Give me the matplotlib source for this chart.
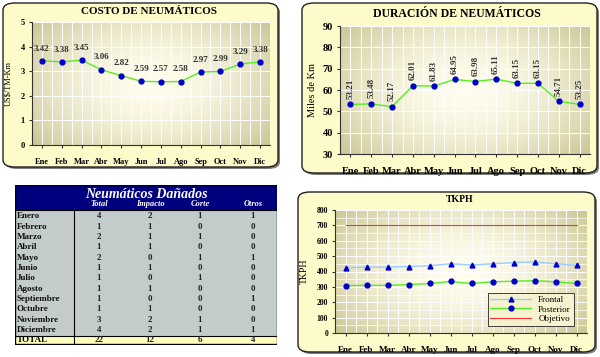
import matplotlib
matplotlib.use('Agg')
import matplotlib.pyplot as plt
import numpy as np
from matplotlib.patches import FancyBboxPatch, Rectangle
from matplotlib.ticker import MultipleLocator

plt.rcParams['font.family'] = ['Liberation Serif', 'DejaVu Serif']
plt.rcParams['font.weight'] = 'bold'

meses = ['Ene', 'Feb', 'Mar', 'Abr', 'May', 'Jun', 'Jul', 'Ago', 'Sep', 'Oct', 'Nov', 'Dic']
costo = [3.42, 3.38, 3.45, 3.06, 2.82, 2.59, 2.57, 2.58, 2.97, 2.99, 3.29, 3.38]
duracion = [53.21, 53.48, 52.17, 62.01, 61.83, 64.95, 63.98, 65.11, 63.15, 63.15, 54.71, 53.25]
tkph_frontal = [425, 428, 428, 432, 438, 450, 442, 450, 458, 462, 450, 440]
tkph_posterior = [308, 310, 310, 315, 322, 335, 322, 333, 337, 340, 333, 322]
tkph_objetivo = [700] * 12

tabla_meses = ['Enero', 'Febrero', 'Marzo', 'Abril', 'Mayo', 'Junio', 'Julio',
               'Agosto', 'Septiembre', 'Octubre', 'Noviembre', 'Diciembre']
tabla_cols = ['Total', 'Impacto', 'Corte', 'Otros']
tabla_total = [4, 1, 2, 1, 2, 1, 1, 1, 1, 1, 3, 4]
tabla_impacto = [2, 1, 1, 1, 0, 1, 0, 1, 0, 1, 2, 2]
tabla_corte = [1, 0, 1, 0, 1, 0, 1, 0, 0, 0, 1, 1]
tabla_otros = [1, 0, 0, 0, 1, 0, 0, 0, 1, 0, 0, 1]

W, H = 600, 357
fig = plt.figure(figsize=(6, 3.57), dpi=100)
fig.patch.set_facecolor('white')


def panel(x0, y0, x1, y1):
    # rounded yellow box, coords in pixels from top-left
    sh = FancyBboxPatch(((x0 + 2) / W, 1 - (y1 + 2) / H), (x1 - x0) / W, (y1 - y0) / H,
                        boxstyle='round,pad=0,rounding_size=0.02', transform=fig.transFigure,
                        facecolor='#7a7a7a', edgecolor='none', zorder=-3)
    bx = FancyBboxPatch((x0 / W, 1 - y1 / H), (x1 - x0) / W, (y1 - y0) / H,
                        boxstyle='round,pad=0,rounding_size=0.02', transform=fig.transFigure,
                        facecolor='#fdfbc9', edgecolor='#222222', linewidth=1.0, zorder=-2)
    fig.patches.append(sh)
    fig.patches.append(bx)


def add_axes(x0, y0, x1, y1):
    return fig.add_axes([x0 / W, 1 - y1 / H, (x1 - x0) / W, (y1 - y0) / H])


def gradient(ax, ymin, ymax):
    n = 200
    u = np.linspace(-1, 1, n)
    xx, yy = np.meshgrid(u, u)
    r = np.clip(np.sqrt(xx ** 2 + (yy * 0.8) ** 2) / 1.3, 0, 1) ** 1.8
    c0 = np.array([1.0, 0.99, 0.93])
    c1 = np.array([0.79, 0.77, 0.57])
    img = c0[None, None, :] * (1 - r[..., None]) + c1[None, None, :] * r[..., None]
    ax.imshow(img, extent=(-0.5, 11.5, ymin, ymax), aspect='auto', zorder=0,
              interpolation='bilinear')
    ax.set_xlim(-0.5, 11.5)
    ax.set_ylim(ymin, ymax)


def style(ax, ymin, ymax, ystep, yminor=None, fs=6.5):
    ax.set_facecolor('none')
    gradient(ax, ymin, ymax)
    x = np.arange(12)
    ax.set_xticks(x)
    ax.set_xticklabels(meses, fontsize=fs)
    ax.xaxis.set_minor_locator(MultipleLocator(0.5))
    ax.yaxis.set_major_locator(MultipleLocator(ystep))
    if yminor:
        ax.yaxis.set_minor_locator(MultipleLocator(yminor))
        ax.grid(True, which='minor', axis='y', color='white', lw=0.5, zorder=1)
    ax.grid(True, which='major', color='white', lw=0.7, zorder=1)
    ax.grid(True, which='minor', axis='x', color='white', lw=0.7, zorder=1)
    ax.tick_params(axis='both', which='major', labelsize=fs, length=2, color='#333333', pad=3)
    ax.tick_params(axis='both', which='minor', length=0)
    ax.tick_params(axis='x', which='major', pad=7)
    for s in ['top', 'right']:
        ax.spines[s].set_visible(False)
    for s in ['left', 'bottom']:
        ax.spines[s].set_color('#333333')
        ax.spines[s].set_linewidth(0.8)
    ax.set_axisbelow(True)


x = np.arange(12)

# --- Costo de neumaticos
panel(3, 3, 278, 167)
ax1 = add_axes(32, 22, 270, 145)
style(ax1, 0, 5, 1, fs=6)
ax1.plot(x, costo, color='#55ee22', lw=1.0, marker='o', ms=3.5,
         mfc='#0000cc', mec='#0000cc', zorder=3)
for xi, v in zip(x, costo):
    ax1.annotate(f'{v:.2f}', (xi, v), xytext=(0, 6), textcoords='offset points',
                 ha='center', va='bottom', fontsize=6.5, color='#333333')
ax1.set_ylabel('US$/TM-Km', fontsize=6, labelpad=6)
fig.text(149 / W, 1 - 11 / H, 'COSTO DE NEUMÁTICOS', ha='center', va='center',
         fontsize=8, fontweight='bold')

# --- Duracion de neumaticos
panel(302, 3, 597, 173)
ax2 = add_axes(340, 26, 590, 154)
style(ax2, 30, 90, 10, fs=7.5)
ax2.plot(x, duracion, color='#55ee22', lw=1.0, marker='o', ms=3.5,
         mfc='#0000cc', mec='#0000cc', zorder=3)
for xi, v in zip(x, duracion):
    ax2.annotate(f'{v:.2f}', (xi, v), xytext=(0, 4), textcoords='offset points',
                 ha='center', va='bottom', rotation=90, fontsize=6.5, color='#333333')
ax2.set_ylabel('Miles de Km', fontsize=7.5, labelpad=4)
fig.text(457 / W, 1 - 14 / H, 'DURACIÓN DE NEUMÁTICOS', ha='center',
         va='center', fontsize=8.5, fontweight='bold')

# --- TKPH
panel(298, 192, 595, 352)
ax3 = add_axes(335, 210, 587, 333)
style(ax3, 0, 800, 100, 50)
ax3.plot(x, tkph_frontal, color='#99ccff', lw=1.0, marker='^', ms=3.5,
         mfc='#0000cc', mec='#0000cc', zorder=3, label='Frontal')
ax3.plot(x, tkph_posterior, color='#55ee22', lw=1.0, marker='o', ms=3.5,
         mfc='#0000cc', mec='#0000cc', zorder=3, label='Posterior')
ax3.plot(x, tkph_objetivo, color='#ff3333', lw=0.8, zorder=3, label='Objetivo')
ax3.tick_params(axis='y', which='major', labelsize=5.5)
ax3.set_ylabel('TKPH', fontsize=7, labelpad=6)
leg = ax3.legend(loc='lower right', bbox_to_anchor=(0.965, 0.02),
                 frameon=True, fancybox=False, handlelength=4.5, borderpad=0.3,
                 labelspacing=0.15, prop={'size': 6.5, 'weight': 'normal'})
leg.get_frame().set_edgecolor('#222222')
leg.get_frame().set_linewidth(0.6)
leg.get_frame().set_facecolor('#f6f2cf')
leg.get_frame().set_alpha(1)
fig.text(460 / W, 1 - 199 / H, 'TKPH', ha='center', va='center', fontsize=7, fontweight='bold')

# --- Tabla de neumaticos danados
axt = add_axes(15, 185, 277, 345)
axt.set_xlim(15, 277)
axt.set_ylim(345, 185)
axt.axis('off')
row_h = 10.36
y_first = 210
axt.add_patch(Rectangle((15, 185), 262, y_first - 185, facecolor='#00007f', edgecolor='none'))
axt.add_patch(Rectangle((15, y_first), 262, row_h * 12 + 2, facecolor='#c3cbcb', edgecolor='none'))
y_tot = y_first + row_h * 12 + 2
axt.add_patch(Rectangle((15, y_tot), 262, 344 - y_tot, facecolor='#ffffc0', edgecolor='none'))
axt.add_patch(Rectangle((15, 185), 262, 159, facecolor='none', edgecolor='black', lw=1.0))
axt.plot([15, 277], [y_first, y_first], color='black', lw=0.8)
axt.plot([15, 277], [y_tot, y_tot], color='black', lw=0.8)
axt.plot([74, 74], [y_first, 344], color='black', lw=0.8)
axt.text(146, 194, 'Neumáticos Dañados', ha='center', va='center',
         color='white', fontsize=10, style='italic', fontweight='bold')
col_x = [99, 150, 200, 253]
for cx, name in zip(col_x, tabla_cols):
    axt.text(cx, 204.5, name, ha='center', va='center', color='white',
             fontsize=6, style='italic', fontweight='bold')
cols = [tabla_total, tabla_impacto, tabla_corte, tabla_otros]
for i, mes in enumerate(tabla_meses):
    yc = y_first + 1 + row_h * (i + 0.5)
    axt.text(16.5, yc, mes, ha='left', va='center', fontsize=6.5,
             fontweight='bold', color='#111111')
    for cx, col in zip(col_x, cols):
        axt.text(cx, yc, str(col[i]), ha='center', va='center', fontsize=6.5,
                 color='#222222')
yc = (y_tot + 344) / 2
axt.text(16.5, yc, 'TOTAL', ha='left', va='center', fontsize=6.5, fontweight='bold')
for cx, col in zip(col_x, cols):
    axt.text(cx, yc, str(sum(col)), ha='center', va='center', fontsize=6.5,
             color='#222222')

fig.savefig('out.png', dpi=100)
